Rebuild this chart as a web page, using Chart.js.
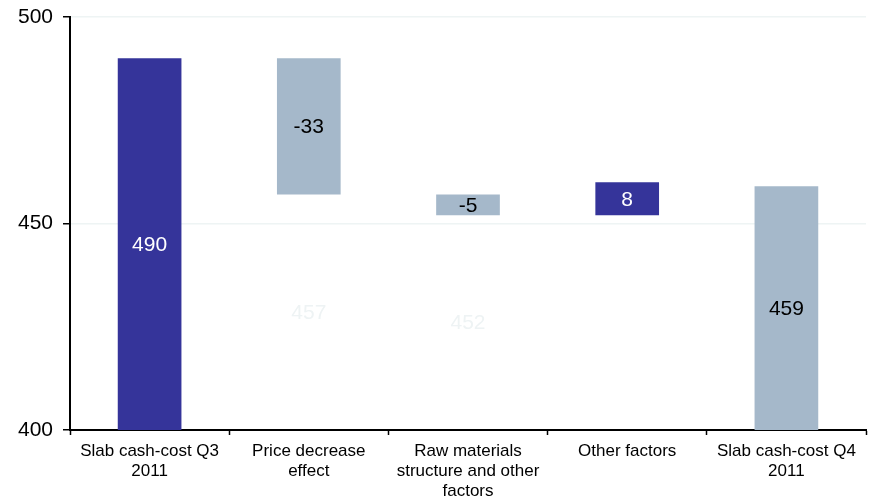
<!DOCTYPE html>
<html>
<head>
<meta charset="utf-8">
<script src="https://cdn.jsdelivr.net/npm/chart.js@4"></script>
<style>
  html, body { margin: 0; padding: 0; background: #fff; }
  #wrap { width: 870px; height: 498px; }
</style>
</head>
<body>
<div id="wrap"><canvas id="bridge" width="870" height="498"></canvas></div>
<script>
// cash-cost bridge, Q3 -> Q4 2011
const categories = [
    ['Slab cash-cost Q3', '2011'],
    ['Price decrease', 'effect'],
    ['Raw materials', 'structure and other', 'factors'],
    ['Other factors'],
    ['Slab cash-cost Q4', '2011']
];
const barLow = [400, 457, 452, 452, 400];
const barHigh = [490, 490, 457, 460, 459];
const barText = ['490', '-33', '-5', '8', '459'];
// invisible base under the moving steps, labelled with the running total
const baseHigh = [null, 457, 452, null, null];
const baseText = ['', '457', '452', '', ''];
const yTicks = [400, 450, 500];

const DARK = '#35349a';
const LIGHT = '#a5b8ca';
const barColors = [DARK, LIGHT, LIGHT, DARK, LIGHT];
const textColors = ['#ffffff', '#000000', '#000000', '#ffffff', '#000000'];

const barLabels = {
    id: 'barLabels',
    afterDatasetsDraw(chart) {
        const ctx = chart.ctx;
        ctx.save();
        ctx.font = '21px "Liberation Sans", Arial, sans-serif';
        ctx.textAlign = 'center';
        ctx.textBaseline = 'middle';
        chart.data.datasets.forEach((ds, di) => {
            const meta = chart.getDatasetMeta(di);
            meta.data.forEach((el, i) => {
                const txt = ds.valueText[i];
                if (!txt) return;
                const y = (el.y + el.base) / 2;
                ctx.fillStyle = ds.textColor[i];
                ctx.fillText(txt, el.x, y + 1);
            });
        });
        ctx.restore();
    }
};

new Chart(document.getElementById('bridge'), {
    type: 'bar',
    data: {
        labels: categories,
        datasets: [
            {
                data: barHigh.map((h, i) => [barLow[i], h]),
                backgroundColor: barColors,
                valueText: barText,
                textColor: textColors,
                grouped: false,
                order: 1
            },
            {
                data: baseHigh.map(h => h === null ? null : [400, h]),
                backgroundColor: 'rgba(0,0,0,0)',
                valueText: baseText,
                textColor: baseText.map(() => '#eef3f4'),
                grouped: false,
                order: 2
            }
        ]
    },
    options: {
        responsive: false,
        animation: false,
        barPercentage: 0.4,
        categoryPercentage: 1,
        layout: { padding: { top: 17, right: 4, left: 0, bottom: 0 } },
        plugins: {
            legend: { display: false },
            tooltip: { enabled: false }
        },
        scales: {
            x: {
                grid: {
                    offset: true,
                    drawOnChartArea: false,
                    tickLength: 5,
                    tickColor: '#000',
                    tickWidth: 1.5
                },
                border: { color: '#000', width: 2 },
                ticks: {
                    color: '#000',
                    padding: 6,
                    maxRotation: 0,
                    autoSkip: false,
                    font: { family: '"Liberation Sans", Arial, sans-serif', size: 17, lineHeight: 1.18 }
                },
                afterFit(scale) { scale.height = 68; }
            },
            y: {
                min: 400,
                max: 500,
                afterBuildTicks(scale) { scale.ticks = yTicks.map(v => ({ value: v })); },
                grid: {
                    color: '#eef4f4',
                    lineWidth: 1.5,
                    tickLength: 7,
                    tickColor: '#000',
                    tickWidth: 1.5
                },
                border: { color: '#000', width: 2 },
                ticks: {
                    color: '#000',
                    padding: 10,
                    font: { family: '"Liberation Sans", Arial, sans-serif', size: 21, lineHeight: 0.7 }
                },
                afterFit(scale) {
                    scale.width = 70;
                    scale.paddingTop = 0;
                }
            }
        }
    },
    plugins: [barLabels]
});
</script>
</body>
</html>
